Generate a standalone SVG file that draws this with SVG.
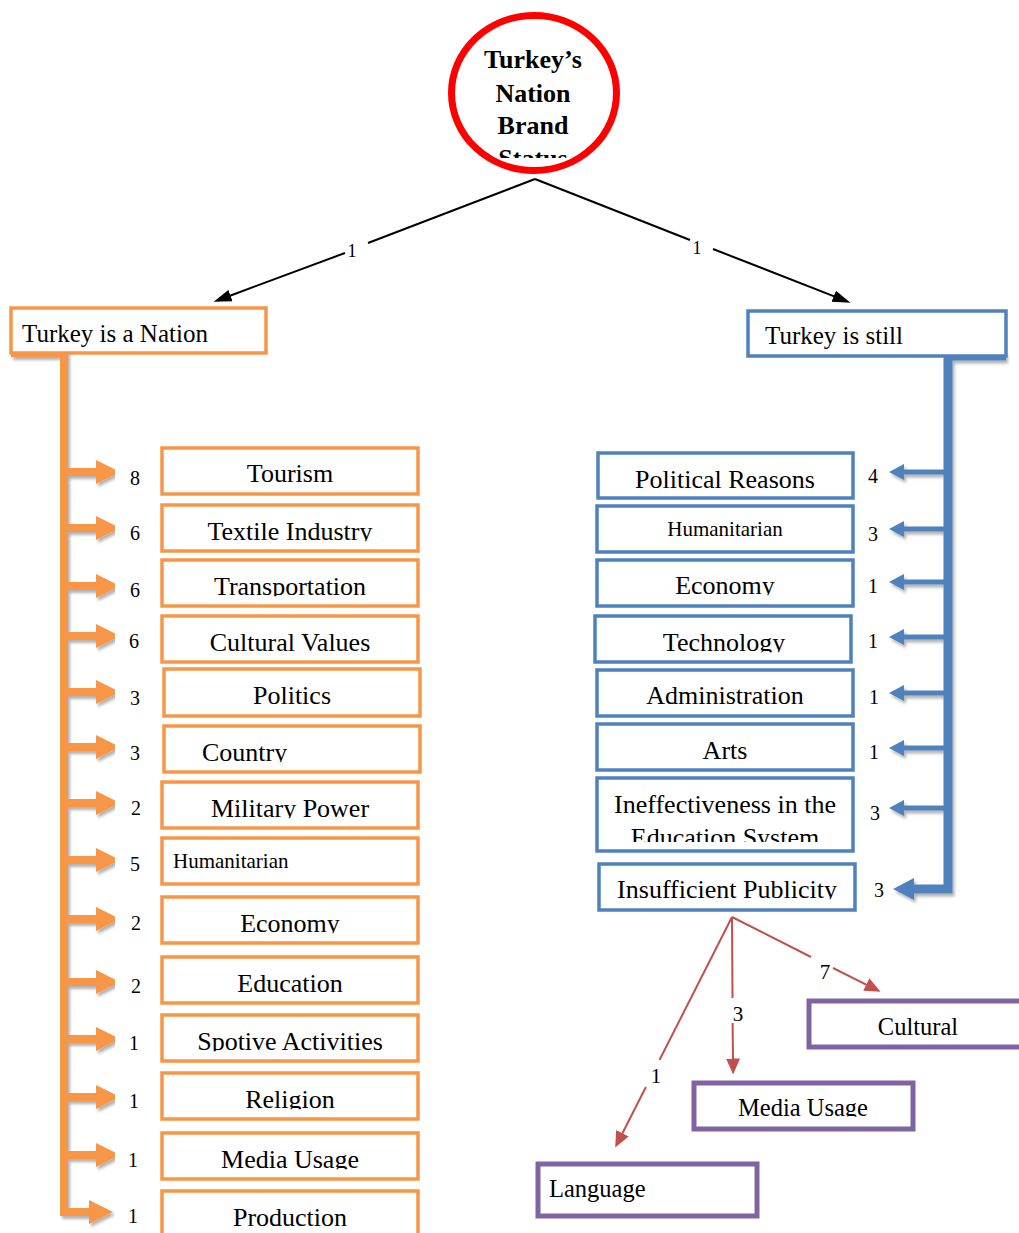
<svg xmlns="http://www.w3.org/2000/svg" width="1019" height="1233" viewBox="0 0 1019 1233">
  <style>
    .t { font-family: "Liberation Serif", "Times New Roman", serif; fill: #000; }
    .lbl { font-size: 26px; text-anchor: middle; }
    .sm { font-size: 21px; }
    .pl { font-size: 24.5px; }
    .num { font-size: 20px; text-anchor: middle; }
    .rnum { font-size: 21px; text-anchor: middle; }
    .bnum { font-size: 18px; text-anchor: middle; }
    .ob { fill: #fff; stroke: #F79646; stroke-width: 3.5; }
    .bb { fill: #fff; stroke: #4F81BD; stroke-width: 3.5; }
    .pb { fill: #fff; stroke: #8064A2; stroke-width: 5; }
    .cut { clip-path: url(#cut); }
    .obr { fill: none; stroke: #F79646; stroke-width: 8; marker-end: url(#oh); }
    .btr { fill: none; stroke: #4F81BD; stroke-width: 9; marker-end: url(#bhb); }
    .bbr { fill: none; stroke: #4F81BD; stroke-width: 5; marker-end: url(#bh); }
    .blk { fill: none; stroke: #000; stroke-width: 2; }
    .red { fill: none; stroke: #C0504D; stroke-width: 2; }
  </style>
  <defs>
    <!-- trims text just under its baseline, as in a fixed-height text box -->
    <clipPath id="cut" clipPathUnits="objectBoundingBox">
      <rect x="-0.1" y="-0.1" width="1.2" height="0.935"/>
    </clipPath>
    <clipPath id="circleClip">
      <rect x="440" y="0" width="200" height="158"/>
    </clipPath>
    <clipPath id="eduClip">
      <rect x="590" y="780" width="270" height="62"/>
    </clipPath>
    <filter id="shadow" x="-20%" y="-5%" width="140%" height="110%">
      <feDropShadow dx="2" dy="3" stdDeviation="1.8" flood-color="#000" flood-opacity="0.3"/>
    </filter>
    <marker id="oh" markerUnits="userSpaceOnUse" markerWidth="26" markerHeight="26" viewBox="0 -13 26 26" refX="1" refY="0" orient="auto">
      <path d="M0,-12 L24,0 L0,12 z" fill="#F79646"/>
    </marker>
    <marker id="bh" markerUnits="userSpaceOnUse" markerWidth="18" markerHeight="18" viewBox="0 -9 18 18" refX="1" refY="0" orient="auto">
      <path d="M0,-8 L15,0 L0,8 z" fill="#4F81BD"/>
    </marker>
    <marker id="bhb" markerUnits="userSpaceOnUse" markerWidth="24" markerHeight="24" viewBox="0 -12 24 24" refX="1" refY="0" orient="auto">
      <path d="M0,-11 L21,0 L0,11 z" fill="#4F81BD"/>
    </marker>
    <marker id="kh" markerUnits="userSpaceOnUse" markerWidth="20" markerHeight="14" viewBox="0 -7 20 14" refX="0.5" refY="0" orient="auto">
      <path d="M0,-6 L18,0 L0,6 z" fill="#000"/>
    </marker>
    <marker id="rh" markerUnits="userSpaceOnUse" markerWidth="18" markerHeight="16" viewBox="0 -8 18 16" refX="0.5" refY="0" orient="auto">
      <path d="M0,-7 L16,0 L0,7 z" fill="#C0504D"/>
    </marker>
  </defs>

  <!-- root -->
  <g id="root">
    <ellipse cx="534" cy="93" rx="82.5" ry="77.5" fill="#fff" stroke="#FF0000" stroke-width="7"/>
    <g clip-path="url(#circleClip)" class="t" font-size="26" font-weight="bold" text-anchor="middle">
      <text x="533" y="68">Turkey’s</text>
      <text x="533" y="102">Nation</text>
      <text x="533" y="134">Brand</text>
      <text x="533" y="167">Status</text>
    </g>
  </g>

  <g id="connectors">
    <!-- root to the two branches -->
    <path class="blk" d="M535,179 L368,243"/>
    <path class="blk" d="M345,253 L230,295.7" marker-end="url(#kh)"/>
    <path class="blk" d="M535,179 L690,240"/>
    <path class="blk" d="M713,249 L834.2,296.4" marker-end="url(#kh)"/>

    <!-- orange trunk and branches -->
    <g filter="url(#shadow)">
      <path class="obr" d="M11,353 H64 V1212 H90"/>
      <path class="obr" d="M64,472 H97"/>
      <path class="obr" d="M64,528 H97"/>
      <path class="obr" d="M64,586 H97"/>
      <path class="obr" d="M64,636 H97"/>
      <path class="obr" d="M64,692 H97"/>
      <path class="obr" d="M64,747 H97"/>
      <path class="obr" d="M64,803 H97"/>
      <path class="obr" d="M64,860 H97"/>
      <path class="obr" d="M64,919 H97"/>
      <path class="obr" d="M64,982 H97"/>
      <path class="obr" d="M64,1039 H97"/>
      <path class="obr" d="M64,1097 H97"/>
      <path class="obr" d="M64,1155 H97"/>
    </g>

    <!-- blue trunk and branches -->
    <g filter="url(#shadow)">
      <path class="btr" d="M1006,356 H948 V889 H913"/>
      <path class="bbr" d="M948,472 H903"/>
      <path class="bbr" d="M948,529 H903"/>
      <path class="bbr" d="M948,582 H903"/>
      <path class="bbr" d="M948,637 H903"/>
      <path class="bbr" d="M948,693 H903"/>
      <path class="bbr" d="M948,748 H903"/>
      <path class="bbr" d="M948,808 H903"/>
    </g>

    <!-- red sub-branches from Insufficient Publicity -->
    <path class="red" d="M732,917 L659.5,1060"/>
    <path class="red" d="M645.9,1087 L622.2,1133.7" marker-end="url(#rh)"/>
    <path class="red" d="M732,917 L732.5,998"/>
    <path class="red" d="M732.6,1023 L733,1059" marker-end="url(#rh)"/>
    <path class="red" d="M732,917 L811,957"/>
    <path class="red" d="M833,968 L866.7,984.8" marker-end="url(#rh)"/>
  </g>

  <!-- connector weights -->
  <g id="weights" class="t">
    <text class="bnum" x="352" y="257">1</text>
    <text class="bnum" x="697" y="254">1</text>
    <text class="num" x="135" y="485">8</text>
    <text class="num" x="135" y="540">6</text>
    <text class="num" x="135" y="597">6</text>
    <text class="num" x="134" y="648">6</text>
    <text class="num" x="135" y="705">3</text>
    <text class="num" x="135" y="760">3</text>
    <text class="num" x="136" y="815">2</text>
    <text class="num" x="135" y="871">5</text>
    <text class="num" x="136" y="930">2</text>
    <text class="num" x="136" y="993">2</text>
    <text class="num" x="134" y="1050">1</text>
    <text class="num" x="134" y="1108">1</text>
    <text class="num" x="133" y="1167">1</text>
    <text class="num" x="133" y="1223">1</text>
    <text class="num" x="873" y="483">4</text>
    <text class="num" x="873" y="541">3</text>
    <text class="num" x="873" y="593">1</text>
    <text class="num" x="873" y="648">1</text>
    <text class="num" x="874" y="704">1</text>
    <text class="num" x="874" y="759">1</text>
    <text class="num" x="875" y="820">3</text>
    <text class="num" x="879" y="897">3</text>
    <text class="rnum" x="656" y="1083">1</text>
    <text class="rnum" x="738" y="1021">3</text>
    <text class="rnum" x="825" y="979">7</text>
  </g>

  <!-- left branch -->
  <g id="nation">
    <rect class="ob" x="11" y="308" width="255" height="45"/>
    <text class="t" x="22" y="342" font-size="25">Turkey is a Nation</text>
  </g>
  <g id="tourism"><rect class="ob" x="162" y="448" width="256" height="46"/><text class="t lbl cut" x="290" y="482">Tourism</text></g>
  <g id="textile"><rect class="ob" x="162" y="505" width="256" height="46"/><text class="t lbl cut" x="290" y="540">Textile Industry</text></g>
  <g id="transportation"><rect class="ob" x="162" y="560" width="256" height="46"/><text class="t lbl cut" x="290" y="595">Transportation</text></g>
  <g id="cultural-values"><rect class="ob" x="162" y="616" width="256" height="46"/><text class="t lbl cut" x="290" y="651">Cultural Values</text></g>
  <g id="politics"><rect class="ob" x="164" y="669" width="256" height="47"/><text class="t lbl cut" x="292" y="704">Politics</text></g>
  <g id="country"><rect class="ob" x="164" y="726" width="256" height="46"/><text class="t cut" font-size="26" x="202" y="761">Country</text></g>
  <g id="military"><rect class="ob" x="162" y="782" width="256" height="46"/><text class="t lbl cut" x="290" y="817">Military Power</text></g>
  <g id="humanitarian-l"><rect class="ob" x="162" y="838" width="256" height="46"/><text class="t sm" x="173" y="868">Humanitarian</text></g>
  <g id="economy-l"><rect class="ob" x="162" y="897" width="256" height="46"/><text class="t lbl cut" x="290" y="932">Economy</text></g>
  <g id="education"><rect class="ob" x="162" y="957" width="256" height="46"/><text class="t lbl cut" x="290" y="992">Education</text></g>
  <g id="sportive"><rect class="ob" x="162" y="1015" width="256" height="46"/><text class="t lbl cut" x="290" y="1050">Spotive Activities</text></g>
  <g id="religion"><rect class="ob" x="162" y="1073" width="256" height="46"/><text class="t lbl cut" x="290" y="1108">Religion</text></g>
  <g id="media-l"><rect class="ob" x="162" y="1133" width="256" height="46"/><text class="t lbl cut" x="290" y="1168">Media Usage</text></g>
  <g id="production"><rect class="ob" x="162" y="1191" width="256" height="46"/><text class="t lbl cut" x="290" y="1226">Production</text></g>

  <!-- right branch -->
  <g id="still">
    <rect class="bb" x="748" y="311" width="258" height="45"/>
    <text class="t" x="765" y="344" font-size="25">Turkey is still</text>
  </g>
  <g id="political"><rect class="bb" x="598" y="453" width="255" height="45"/><text class="t lbl cut" x="725" y="488">Political Reasons</text></g>
  <g id="humanitarian-r"><rect class="bb" x="597" y="506" width="256" height="46"/><text class="t sm" x="725" y="536" text-anchor="middle">Humanitarian</text></g>
  <g id="economy-r"><rect class="bb" x="597" y="560" width="256" height="46"/><text class="t lbl cut" x="725" y="594">Economy</text></g>
  <g id="technology"><rect class="bb" x="595" y="616" width="256" height="46"/><text class="t lbl cut" x="724" y="651">Technology</text></g>
  <g id="administration"><rect class="bb" x="597" y="670" width="256" height="46"/><text class="t lbl cut" x="725" y="704">Administration</text></g>
  <g id="arts"><rect class="bb" x="597" y="724" width="256" height="46"/><text class="t lbl cut" x="725" y="759">Arts</text></g>
  <g id="ineffectiveness">
    <rect class="bb" x="597" y="778" width="256" height="73"/>
    <g clip-path="url(#eduClip)">
      <text class="t lbl" x="725" y="813">Ineffectiveness in the</text>
      <text class="t lbl" x="725" y="846">Education System</text>
    </g>
  </g>
  <g id="publicity"><rect class="bb" x="599" y="864" width="256" height="46"/><text class="t lbl cut" x="727" y="898">Insufficient Publicity</text></g>

  <!-- sub-branches of publicity -->
  <g id="cultural"><rect class="pb" x="809" y="1001" width="220" height="46"/><text class="t pl" x="918" y="1035" text-anchor="middle">Cultural</text></g>
  <g id="media-r"><rect class="pb" x="694" y="1083" width="219" height="46"/><text class="t pl cut" x="803" y="1116" text-anchor="middle">Media Usage</text></g>
  <g id="language"><rect class="pb" x="538" y="1164" width="219" height="52"/><text class="t pl" x="549" y="1197">Language</text></g>
</svg>
